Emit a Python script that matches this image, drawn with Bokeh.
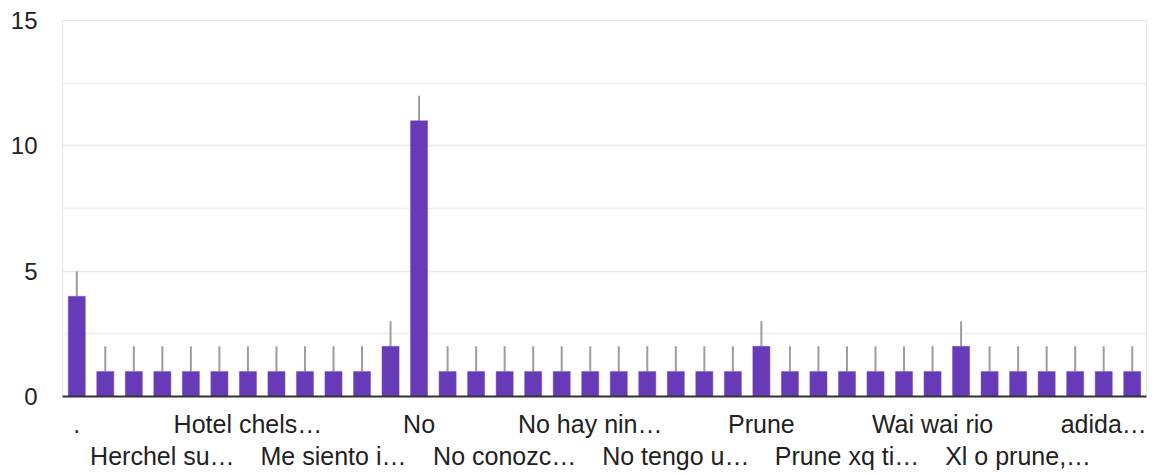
from bokeh.plotting import figure
from bokeh.models import FixedTicker, LinearAxis, ColumnDataSource, Range1d
from bokeh.embed import file_html
from bokeh.resources import INLINE

categories = [
    ".", "Adidas", "Converse", "Herchel su…", "Hollister", "Hotel",
    "Hotel chels…", "Levi's", "Mango", "Me siento i…", "Nike", "Ninguna",
    "No", "No compro", "No conozco", "No conozc…", "No creo", "No hay",
    "No hay nin…", "No se", "No tengo", "No tengo u…", "Ns", "Pull",
    "Prune", "Prune y Nike", "Prune xq", "Prune xq ti…", "Puma", "Vans",
    "Wai wai rio", "Wanama", "Xl", "Xl o prune,…", "Zara", "adidas",
    "adida…", "nike",
]
values = [4, 1, 1, 1, 1, 1, 1, 1, 1, 1, 1, 2, 11, 1, 1, 1, 1, 1, 1, 1,
          1, 1, 1, 1, 2, 1, 1, 1, 1, 1, 1, 2, 1, 1, 1, 1, 1, 1]
y_ticks = [0, 5, 10, 15]
y_minor = [2.5, 7.5, 12.5]

xs = list(range(len(categories)))
src = ColumnDataSource(dict(x=xs, top=values, cat=categories,
                            whisk=[v + 1 for v in values]))

FONT = "Liberation Sans"
TXT = "#222222"

p = figure(width=1153, height=475, output_backend="svg", toolbar_location=None,
           x_range=Range1d(-0.5, len(categories) - 0.5), y_range=Range1d(0, 15),
           min_border_left=62, min_border_right=7, min_border_top=20,
           min_border_bottom=79)
p.background_fill_color = "white"
p.border_fill_color = "white"
p.outline_line_color = "#e6e6e6"
p.outline_line_width = 1

p.segment(x0="x", y0="top", x1="x", y1="whisk", source=src,
          line_color="#9e9e9e", line_width=2)
p.vbar(x="x", top="top", width=0.6, bottom=0, source=src,
       fill_color="#673ab7", line_color="#7e57c2", line_width=0.5)

# y axis
p.yaxis.ticker = FixedTicker(ticks=y_ticks, minor_ticks=y_minor)
p.yaxis.axis_line_color = None
p.yaxis.major_tick_line_color = None
p.yaxis.minor_tick_line_color = None
p.yaxis.major_tick_out = 0
p.yaxis.minor_tick_out = 0
p.yaxis.major_label_standoff = 25
p.yaxis.major_label_text_font = FONT
p.yaxis.major_label_text_font_size = "24px"
p.yaxis.major_label_text_color = TXT

p.ygrid.ticker = FixedTicker(ticks=y_ticks, minor_ticks=y_minor)
p.ygrid.grid_line_color = "#e8e8e8"
p.ygrid.grid_line_width = 1.5
p.ygrid.minor_grid_line_color = "#eeeeee"
p.ygrid.minor_grid_line_width = 1.5
p.xgrid.grid_line_color = None

# x axes: two staggered rows of labels
row1 = xs[0::6]
row2 = xs[3::6]
ax1 = p.xaxis[0]
ax1.ticker = FixedTicker(ticks=row1)
ax1.major_label_overrides = {i: categories[i] for i in row1}
ax1.axis_line_color = "#333333"
ax1.axis_line_width = 2
ax1.major_tick_line_color = None
ax1.minor_tick_line_color = None
ax1.major_label_standoff = 7
ax1.major_label_text_font = FONT
ax1.major_label_text_font_size = "25px"
ax1.major_label_text_color = TXT

ax2 = LinearAxis(ticker=FixedTicker(ticks=row2),
                 major_label_overrides={i: categories[i] for i in row2})
ax2.axis_line_color = None
ax2.major_tick_line_color = None
ax2.minor_tick_line_color = None
ax2.major_label_standoff = -5
ax2.major_label_text_font = FONT
ax2.major_label_text_font_size = "25px"
ax2.major_label_text_color = TXT
p.add_layout(ax2, "below")

open("out.html", "w").write(file_html(p, INLINE))
